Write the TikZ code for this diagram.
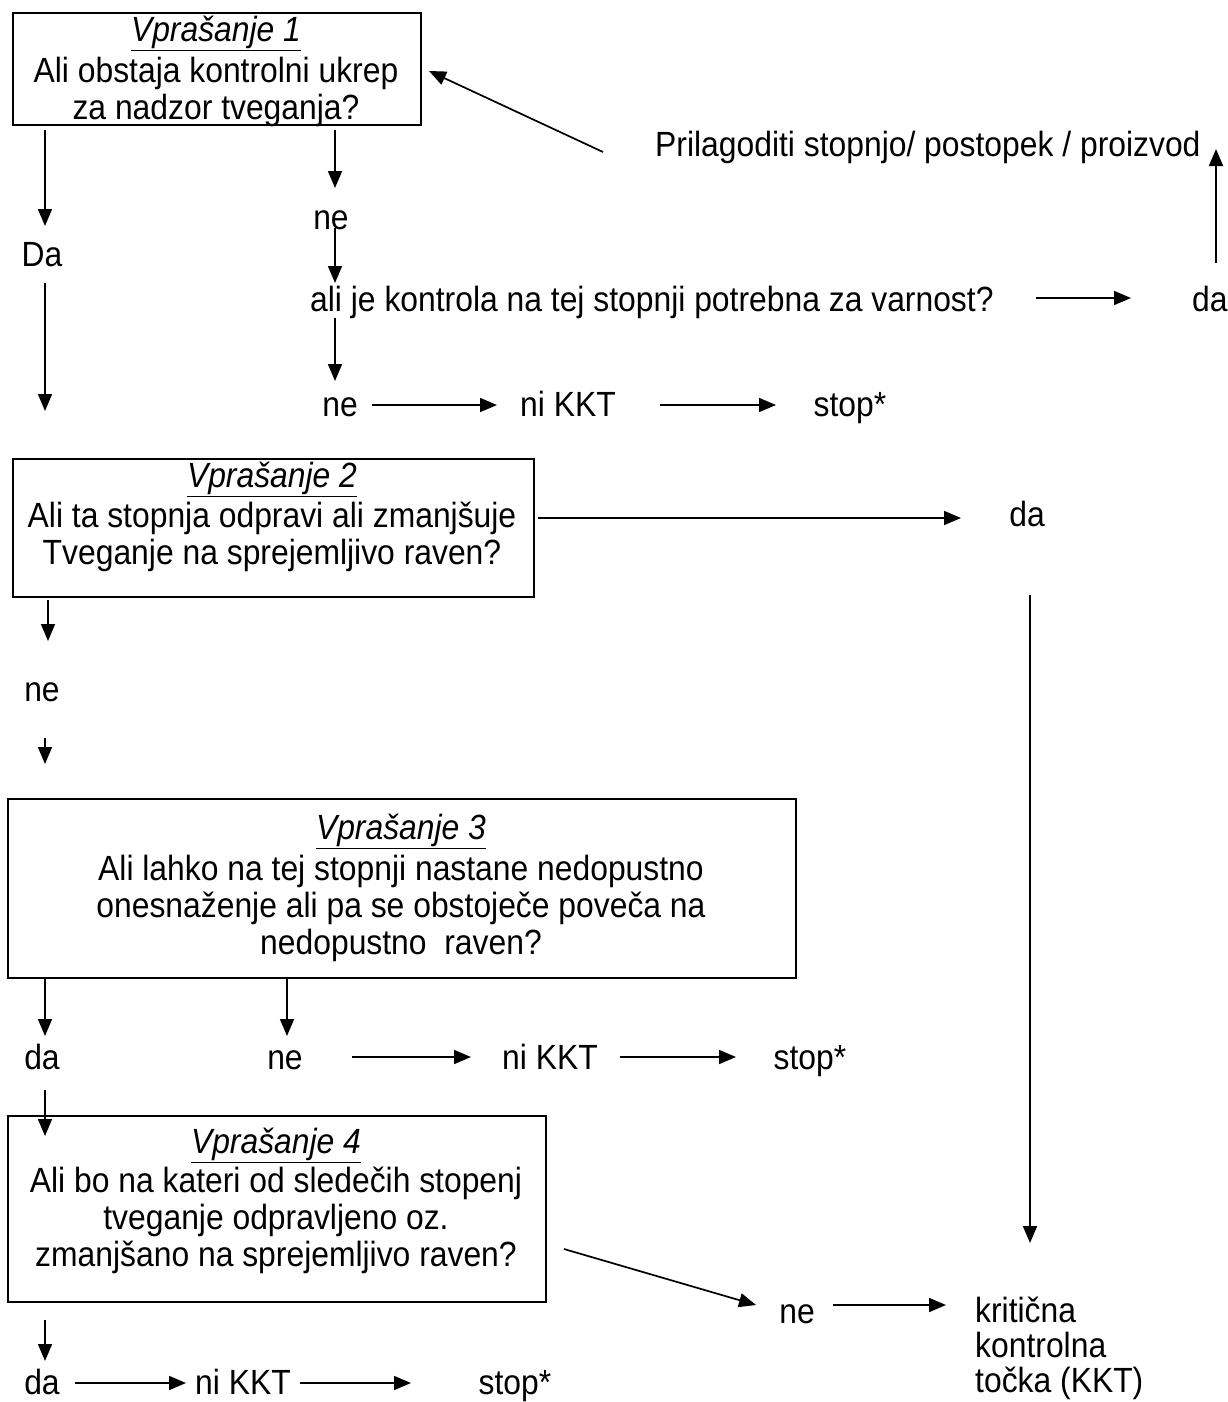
\documentclass[tikz,border=0pt]{standalone}
\usepackage{fontspec}
\setmainfont{Liberation Sans}[FakeStretch=0.91]
\usetikzlibrary{arrows.meta}
\begin{document}
\begin{tikzpicture}[x=1pt,y=-1pt,
  every node/.style={inner sep=0pt, font=\fontsize{35}{37}\selectfont},
  qbox/.style={draw, line width=2pt, inner sep=0pt, anchor=north west},
  qtxt/.style={align=center, anchor=north},
  lbl/.style={anchor=base},
  arr/.style={line width=1.7pt, -{Triangle[length=17pt,width=14pt]}}]
\useasboundingbox[fill=white] (0,0) rectangle (1228,1402);

% ---------- boxes ----------
\node[qbox, minimum width=408pt, minimum height=112pt] (q1) at (12,12) {};
\node[qtxt] (q1t) at (216,16) {\underline{\textit{Vprašanje 1}}\\[4pt]Ali obstaja kontrolni ukrep\\za nadzor tveganja?};

\node[qbox, minimum width=521pt, minimum height=138pt] (q2) at (12,458) {};
\node[qtxt] (q2t) at (272,462) {\underline{\textit{Vprašanje 2}}\\[3pt]Ali ta stopnja odpravi ali zmanjšuje\\Tveganje na sprejemljivo raven?};

\node[qbox, minimum width=788pt, minimum height=179pt] (q3) at (7,798) {};
\node[qtxt] (q3t) at (401,814) {\underline{\textit{Vprašanje 3}}\\[4pt]Ali lahko na tej stopnji nastane nedopustno\\onesnaženje ali pa se obstoječe poveča na\\nedopustno\ \ raven?};

\node[qbox, minimum width=538pt, minimum height=186pt] (q4) at (7,1115) {};
\node[qtxt] (q4t) at (276,1128) {\underline{\textit{Vprašanje 4}}\\[2pt]Ali bo na kateri od sledečih stopenj\\tveganje odpravljeno oz.\\zmanjšano na sprejemljivo raven?};

% ---------- labels ----------
\node[lbl] (da1) at (42,266) {Da};
\node[lbl] (ne1) at (331,229) {ne};
\node[anchor=base west] (qs) at (310,311) {ali je kontrola na tej stopnji potrebna za varnost?};
\node[anchor=base west] (da1r) at (1192,311) {da};
\node[anchor=base west] (pril) at (655,156) {Prilagoditi stopnjo/ postopek / proizvod};
\node[lbl] (ne2) at (340,416) {ne};
\node[lbl] (nk1) at (568,416) {ni KKT};
\node[lbl] (st1) at (850,416) {stop*};

\node[lbl] (da2) at (1027,526) {da};
\node[lbl] (ne3) at (42,701) {ne};

\node[lbl] (da3) at (42,1069) {da};
\node[lbl] (ne4) at (285,1069) {ne};
\node[lbl] (nk2) at (550,1069) {ni KKT};
\node[lbl] (st2) at (810,1069) {stop*};

\node[lbl] (ne5) at (797,1323) {ne};
\node[align=left, anchor=north west, font=\fontsize{35}{35}\selectfont] (kkt) at (975,1297) {kritična\\kontrolna\\točka (KKT)};

\node[lbl] (da4) at (42,1394) {da};
\node[lbl] (nk3) at (243,1394) {ni KKT};
\node[lbl] (st3) at (515,1394) {stop*};

% ---------- connector end points ----------
\coordinate (c1a) at (45,130);   \coordinate (c1b) at (45,226);
\coordinate (c2a) at (45,283);   \coordinate (c2b) at (45,411);
\coordinate (c3a) at (335,130);  \coordinate (c3b) at (335,188);
\coordinate (c4a) at (335,228);  \coordinate (c4b) at (335,283);
\coordinate (c5a) at (335,318);  \coordinate (c5b) at (335,381);
\coordinate (c6a) at (372,405);  \coordinate (c6b) at (497,405);
\coordinate (c7a) at (660,405);  \coordinate (c7b) at (776,405);
\coordinate (c8a) at (1036,298); \coordinate (c8b) at (1131,298);
\coordinate (c9a) at (1216,263); \coordinate (c9b) at (1216,149);
\coordinate (c10a) at (603,152); \coordinate (c10b) at (429,71);
\coordinate (c11a) at (538,518); \coordinate (c11b) at (961,518);
\coordinate (c12a) at (1030,595);\coordinate (c12b) at (1030,1243);
\coordinate (c13a) at (48,600);  \coordinate (c13b) at (48,641);
\coordinate (c14a) at (45,738);  \coordinate (c14b) at (45,764);
\coordinate (c15a) at (45,979);  \coordinate (c15b) at (45,1036);
\coordinate (c16a) at (287,979); \coordinate (c16b) at (287,1036);
\coordinate (c17a) at (352,1057);\coordinate (c17b) at (471,1057);
\coordinate (c18a) at (620,1057);\coordinate (c18b) at (736,1057);
\coordinate (c19a) at (45,1090); \coordinate (c19b) at (45,1136);
\coordinate (c20a) at (564,1249);\coordinate (c20b) at (756,1305);
\coordinate (c21a) at (833,1305);\coordinate (c21b) at (946,1305);
\coordinate (c22a) at (45,1320); \coordinate (c22b) at (45,1361);
\coordinate (c23a) at (75,1383); \coordinate (c23b) at (186,1383);
\coordinate (c24a) at (300,1383);\coordinate (c24b) at (411,1383);

% ---------- connectors ----------
\foreach \i in {1,...,24} {\draw[arr] (c\i a) -- (c\i b);}
\end{tikzpicture}
\end{document}
